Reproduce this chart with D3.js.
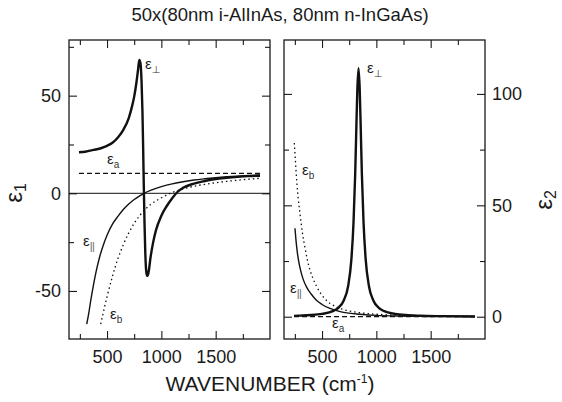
<!DOCTYPE html>
<html>
<head>
<meta charset="utf-8">
<script src="https://cdn.jsdelivr.net/npm/d3@7"></script>
<style>
  body { margin: 0; background: #fff; }
  text { font-family: "Liberation Sans", Arial, sans-serif; fill: #1a1a1a; }
</style>
</head>
<body>
<svg id="chart" width="562" height="402"></svg>
<script>
// ---- data (wavenumber in cm-1) ----
const xMajor = [500, 1000, 1500];
const xMinor = [250, 750, 1250, 1750];

// eps1 (left panel)
const wnPerp1 = [242, 300, 375, 450, 500, 550, 600, 650, 700, 730, 750, 770, 785, 797, 808, 818, 826, 832, 838, 845, 852, 860, 868, 876, 885, 900, 925, 950, 1000, 1050, 1100, 1150, 1200, 1300, 1400, 1500, 1600, 1700, 1800, 1908];
const eps1Perp = [21.0, 21.3, 22.2, 23.2, 24.3, 25.9, 28.6, 32.5, 38.5, 44.5, 49.5, 56.5, 63, 68.3, 66.5, 57, 42, 25, 5, -15, -30, -39.5, -42.3, -41.8, -39.5, -33, -25, -19, -11.5, -6.5, -2.5, 0.8, 2.8, 5.0, 6.3, 7.3, 7.9, 8.4, 8.8, 9.0];

const wnPar1 = [313, 330, 350, 375, 400, 430, 460, 500, 550, 600, 650, 700, 750, 800, 840, 900, 1000, 1100, 1200, 1300, 1400, 1500, 1600, 1700, 1800, 1908];
const eps1Par = [-67, -62, -55, -47, -40, -33, -27.5, -21.5, -15.8, -11.8, -8.3, -5.5, -3.2, -1.3, 0, 1.5, 3.4, 4.85, 5.9, 6.8, 7.45, 8.0, 8.45, 8.8, 9.1, 9.4];

const wnB1 = [442, 470, 500, 550, 600, 650, 700, 750, 800, 850, 900, 1000, 1100, 1200, 1300, 1400, 1500, 1600, 1700, 1800, 1908];
const eps1B = [-67, -60, -53, -42.5, -33.5, -26.3, -20.3, -15.3, -11.5, -8.3, -5.8, -2.3, 0.4, 2.2, 3.6, 4.6, 5.4, 6.1, 6.7, 7.2, 7.7];

const wnA = [242, 1908];
const eps1A = [10.2, 10.2];

// eps2 (right panel)
const wnPerp2 = [242, 300, 400, 500, 600, 650, 700, 740, 770, 790, 805, 815, 825, 836, 847, 857, 867, 882, 902, 932, 972, 1022, 1072, 1172, 1272, 1400, 1600, 1908];
const eps2Perp = [0.4, 0.5, 0.75, 1.3, 2.5, 4.0, 7.3, 13.7, 25.6, 42.5, 63.7, 83.2, 101.9, 111.5, 101.9, 83.2, 63.7, 42.5, 25.6, 13.7, 7.3, 4.0, 2.5, 1.3, 0.75, 0.45, 0.25, 0.12];

const wnPar2 = [251, 260, 275, 297, 325, 359, 400, 451, 500, 573, 650, 727, 850, 1000, 1200, 1500, 1908];
const eps2Par = [39.7, 34.5, 28, 22, 17, 13.2, 10.2, 7.3, 5.5, 3.7, 2.5, 1.7, 1.1, 0.6, 0.35, 0.18, 0.08];

const wnB2 = [245, 255, 267, 280, 297, 320, 343, 365, 389, 420, 451, 490, 527, 580, 635, 700, 819, 950, 1126, 1300, 1500, 1700, 1908];
const eps2B = [78, 70, 61, 53.5, 46.4, 37.5, 31, 25.5, 21, 16.8, 13.5, 10.3, 8, 5.8, 4.3, 3.2, 2, 1.3, 0.8, 0.5, 0.35, 0.22, 0.15];

const eps2A = [0, 0];

// ---- layout ----
const svg = d3.select('#chart');
const plotTop = 40, plotBottom = 339;
const fmt = d => String(d); // plain hyphen for negatives, like the original

function makePanel(cfg) {
  const x = d3.scaleLinear().domain([150, 2000]).range([cfg.x0, cfg.x1]);
  const y = d3.scaleLinear().domain(cfg.yDom).range([plotBottom, plotTop]);
  const g = svg.append('g');

  const clipId = 'clip' + cfg.id;
  svg.append('clipPath').attr('id', clipId).append('rect')
    .attr('x', cfg.x0).attr('y', plotTop).attr('width', cfg.x1 - cfg.x0).attr('height', plotBottom - plotTop);

  // ticks (inward)
  const ax = (gen, tx, ty) => {
    const a = g.append('g').attr('transform', `translate(${tx},${ty})`).call(gen);
    a.select('.domain').remove();
    a.selectAll('line').attr('stroke', '#1a1a1a').attr('stroke-width', 1.1);
    a.selectAll('text').attr('font-size', 18).attr('font-family', '"Liberation Sans", Arial, sans-serif');
    return a;
  };
  ax(d3.axisBottom(x).tickValues(xMajor).tickSizeInner(-8).tickSizeOuter(0).tickPadding(11).tickFormat(fmt), 0, plotBottom);
  ax(d3.axisBottom(x).tickValues(xMinor).tickSizeInner(-5).tickSizeOuter(0).tickFormat(''), 0, plotBottom);
  ax(d3.axisTop(x).tickValues(xMajor).tickSizeInner(-8).tickSizeOuter(0).tickFormat(''), 0, plotTop);
  ax(d3.axisTop(x).tickValues(xMinor).tickSizeInner(-5).tickSizeOuter(0).tickFormat(''), 0, plotTop);

  ax(d3.axisLeft(y).tickValues(cfg.majorY).tickSizeInner(-8).tickSizeOuter(0).tickPadding(8)
      .tickFormat(cfg.side === 'left' ? fmt : ''), cfg.x0, 0);
  ax(d3.axisLeft(y).tickValues(cfg.minorY).tickSizeInner(-5).tickSizeOuter(0).tickFormat(''), cfg.x0, 0);
  ax(d3.axisRight(y).tickValues(cfg.majorY).tickSizeInner(-8).tickSizeOuter(0).tickPadding(7)
      .tickFormat(cfg.side === 'right' ? fmt : ''), cfg.x1, 0);
  ax(d3.axisRight(y).tickValues(cfg.minorY).tickSizeInner(-5).tickSizeOuter(0).tickFormat(''), cfg.x1, 0);

  g.append('rect')
    .attr('x', cfg.x0).attr('y', plotTop)
    .attr('width', cfg.x1 - cfg.x0).attr('height', plotBottom - plotTop)
    .attr('fill', 'none').attr('stroke', '#1a1a1a').attr('stroke-width', 1.3);

  const lines = g.append('g').attr('clip-path', `url(#${clipId})`);
  return {x, y, g, lines};
}

function drawSeries(p, xs, ys, width, dash) {
  const line = d3.line()
    .x((d, i) => p.x(xs[i]))
    .y(d => p.y(d))
    .curve(d3.curveMonotoneX);
  p.lines.append('path')
    .datum(ys)
    .attr('d', line)
    .attr('fill', 'none')
    .attr('stroke', '#111')
    .attr('stroke-width', width)
    .attr('stroke-dasharray', dash || null)
    .attr('stroke-linejoin', 'round');
}

function epsLabel(p, wn, val, sub) {
  const t = p.g.append('text')
    .attr('x', p.x(wn)).attr('y', p.y(val))
    .attr('font-size', 15);
  t.append('tspan').text('ε');
  const s = t.append('tspan').attr('font-size', 10).attr('dy', 4).attr('fill', '#333');
  if (sub === 'perp') {
    s.attr('font-family', '"DejaVu Sans", sans-serif').text('⊥');
  } else if (sub === 'par') {
    s.attr('font-size', 11).attr('letter-spacing', -0.5).attr('fill', '#666').text('||');
  } else {
    s.text(sub);
  }
}

// left panel: eps1
const left = makePanel({id: 'L', x0: 69, x1: 270, yDom: [-74.6, 78.5],
  majorY: [-50, 0, 50], minorY: [-25, 25, 75], side: 'left'});

left.lines.append('line')
  .attr('x1', 69).attr('x2', 270)
  .attr('y1', left.y(0)).attr('y2', left.y(0))
  .attr('stroke', '#111').attr('stroke-width', 1);

drawSeries(left, wnA, eps1A, 1.2, '5,3');
drawSeries(left, wnB1, eps1B, 1.3, '1.5,3');
drawSeries(left, wnPar1, eps1Par, 1.4);
drawSeries(left, wnPerp1, eps1Perp, 2.4);

epsLabel(left, 850, 63.7, 'perp');
epsLabel(left, 500, 15, 'a');
epsLabel(left, 279, -27, 'par');
epsLabel(left, 527, -64.4, 'b');

// right panel: eps2
const right = makePanel({id: 'R', x0: 284, x1: 485, yDom: [-10, 124.2],
  majorY: [0, 50, 100], minorY: [25, 75], side: 'right'});

drawSeries(right, wnA, eps2A, 1.2, '5,3');
drawSeries(right, wnB2, eps2B, 1.3, '1.5,3');
drawSeries(right, wnPar2, eps2Par, 1.4);
drawSeries(right, wnPerp2, eps2Perp, 2.4);

epsLabel(right, 914, 109.4, 'perp');
epsLabel(right, 316, 63.6, 'b');
epsLabel(right, 205, 10.6, 'par');
epsLabel(right, 592, -5, 'a');

// titles
svg.append('text')
  .attr('x', 280).attr('y', 21)
  .attr('text-anchor', 'middle')
  .attr('font-size', 18.5)
  .text('50x(80nm i-AlInAs, 80nm n-InGaAs)');

const xl = svg.append('text')
  .attr('x', 270).attr('y', 391)
  .attr('text-anchor', 'middle')
  .attr('font-size', 21);
xl.append('tspan').text('WAVENUMBER (cm');
xl.append('tspan').attr('font-size', 12).attr('dy', -8).text('-1');
xl.append('tspan').attr('dy', 8).text(')');

const yl = svg.append('text')
  .attr('transform', 'translate(22,193) rotate(-90)')
  .attr('text-anchor', 'middle')
  .attr('font-size', 24);
yl.append('tspan').text('ε');
yl.append('tspan').attr('font-size', 16).attr('dy', 4).text('1');

const yr = svg.append('text')
  .attr('transform', 'translate(552,200) rotate(-90)')
  .attr('text-anchor', 'middle')
  .attr('font-size', 24);
yr.append('tspan').text('ε');
yr.append('tspan').attr('font-size', 16).attr('dy', 4).text('2');
</script>
</body>
</html>
